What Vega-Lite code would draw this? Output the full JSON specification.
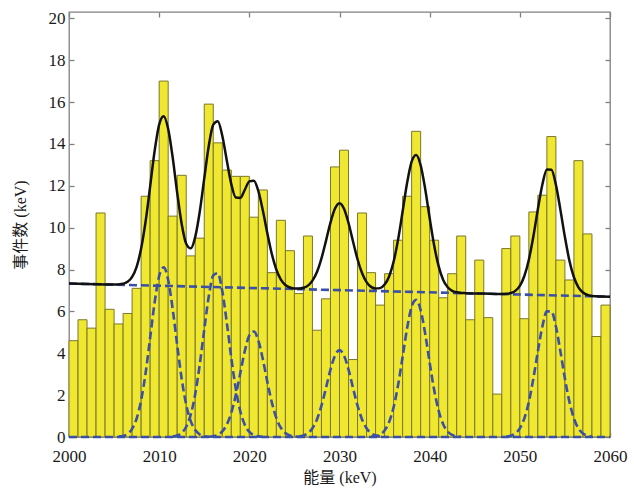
{
  "$schema": "https://vega.github.io/schema/vega-lite/v6.json",
  "width": 541,
  "height": 425,
  "autosize": "none",
  "padding": {"left": 69, "top": 12, "right": 24, "bottom": 57},
  "background": "white",
  "config": {
    "view": {"stroke": "#808080", "strokeWidth": 1.3},
    "axis": {
      "grid": false,
      "domain": false,
      "tickColor": "#808080",
      "tickWidth": 1.3,
      "tickSize": -5,
      "labelFlush": false,
      "labelOverlap": false,
      "labelFont": "Liberation Serif, Times New Roman, serif",
      "labelFontSize": 17,
      "labelColor": "#1a1a1a",
      "titleFont": "Liberation Serif, Noto Sans CJK SC, serif",
      "titleFontSize": 16,
      "titleFontWeight": "normal",
      "titleColor": "#1a1a1a"
    }
  },
  "datasets": {
    "hist": [
      {"a": 2000, "b": 2001, "n": 4.6}, {"a": 2001, "b": 2002, "n": 5.6}, {"a": 2002, "b": 2003, "n": 5.2},
      {"a": 2003, "b": 2004, "n": 10.7}, {"a": 2004, "b": 2005, "n": 6.1}, {"a": 2005, "b": 2006, "n": 5.4},
      {"a": 2006, "b": 2007, "n": 5.9}, {"a": 2007, "b": 2008, "n": 7.1}, {"a": 2008, "b": 2009, "n": 11.5},
      {"a": 2009, "b": 2010, "n": 13.2}, {"a": 2010, "b": 2011, "n": 17.0}, {"a": 2011, "b": 2012, "n": 10.55},
      {"a": 2012, "b": 2013, "n": 12.5}, {"a": 2013, "b": 2014, "n": 8.65}, {"a": 2014, "b": 2015, "n": 9.5},
      {"a": 2015, "b": 2016, "n": 15.9}, {"a": 2016, "b": 2017, "n": 14.05}, {"a": 2017, "b": 2018, "n": 12.75},
      {"a": 2018, "b": 2019, "n": 12.45}, {"a": 2019, "b": 2020, "n": 12.45}, {"a": 2020, "b": 2021, "n": 10.5},
      {"a": 2021, "b": 2022, "n": 11.8}, {"a": 2022, "b": 2023, "n": 7.85}, {"a": 2023, "b": 2024, "n": 10.35},
      {"a": 2024, "b": 2025, "n": 8.9}, {"a": 2025, "b": 2026, "n": 6.85}, {"a": 2026, "b": 2027, "n": 9.6},
      {"a": 2027, "b": 2028, "n": 5.1}, {"a": 2028, "b": 2029, "n": 6.6}, {"a": 2029, "b": 2030, "n": 12.9},
      {"a": 2030, "b": 2031, "n": 13.7}, {"a": 2031, "b": 2032, "n": 3.7}, {"a": 2032, "b": 2033, "n": 10.7},
      {"a": 2033, "b": 2034, "n": 7.85}, {"a": 2034, "b": 2035, "n": 6.3}, {"a": 2035, "b": 2036, "n": 7.8},
      {"a": 2036, "b": 2037, "n": 9.4}, {"a": 2037, "b": 2038, "n": 11.5}, {"a": 2038, "b": 2039, "n": 14.6},
      {"a": 2039, "b": 2040, "n": 11.0}, {"a": 2040, "b": 2041, "n": 9.4}, {"a": 2041, "b": 2042, "n": 6.65},
      {"a": 2042, "b": 2043, "n": 7.8}, {"a": 2043, "b": 2044, "n": 9.6}, {"a": 2044, "b": 2045, "n": 5.6},
      {"a": 2045, "b": 2046, "n": 8.45}, {"a": 2046, "b": 2047, "n": 5.7}, {"a": 2047, "b": 2048, "n": 2.05},
      {"a": 2048, "b": 2049, "n": 9.0}, {"a": 2049, "b": 2050, "n": 9.6}, {"a": 2050, "b": 2051, "n": 5.65},
      {"a": 2051, "b": 2052, "n": 10.75}, {"a": 2052, "b": 2053, "n": 11.55}, {"a": 2053, "b": 2054, "n": 14.35},
      {"a": 2054, "b": 2055, "n": 8.45}, {"a": 2055, "b": 2056, "n": 7.5}, {"a": 2056, "b": 2057, "n": 13.2},
      {"a": 2057, "b": 2058, "n": 9.7}, {"a": 2058, "b": 2059, "n": 4.8}, {"a": 2059, "b": 2060, "n": 6.3}
    ],
    "fit": [
      {"e": 2000, "v": 7.33}, {"e": 2002, "v": 7.31}, {"e": 2004, "v": 7.29}, {"e": 2005, "v": 7.28},
      {"e": 2005.5, "v": 7.29}, {"e": 2006, "v": 7.32}, {"e": 2006.5, "v": 7.41}, {"e": 2007, "v": 7.65},
      {"e": 2007.5, "v": 8.13}, {"e": 2008, "v": 9.0}, {"e": 2008.5, "v": 10.31}, {"e": 2009, "v": 11.97},
      {"e": 2009.5, "v": 13.67}, {"e": 2010, "v": 14.92}, {"e": 2010.5, "v": 15.32}, {"e": 2011, "v": 14.71},
      {"e": 2011.5, "v": 13.35}, {"e": 2012, "v": 11.66}, {"e": 2012.5, "v": 10.17}, {"e": 2013, "v": 9.23},
      {"e": 2013.5, "v": 9.01}, {"e": 2014, "v": 9.56}, {"e": 2014.5, "v": 10.76}, {"e": 2015, "v": 12.35},
      {"e": 2015.5, "v": 13.9}, {"e": 2016, "v": 14.92}, {"e": 2016.5, "v": 15.08}, {"e": 2017, "v": 14.39},
      {"e": 2017.5, "v": 13.21}, {"e": 2018, "v": 12.08}, {"e": 2018.5, "v": 11.44}, {"e": 2019, "v": 11.42},
      {"e": 2019.5, "v": 11.81}, {"e": 2020, "v": 12.21}, {"e": 2020.5, "v": 12.24}, {"e": 2021, "v": 11.75},
      {"e": 2021.5, "v": 10.82}, {"e": 2022, "v": 9.73}, {"e": 2022.5, "v": 8.73}, {"e": 2023, "v": 7.99},
      {"e": 2023.5, "v": 7.52}, {"e": 2024, "v": 7.26}, {"e": 2024.5, "v": 7.14}, {"e": 2025, "v": 7.09},
      {"e": 2025.5, "v": 7.09}, {"e": 2026, "v": 7.13}, {"e": 2026.5, "v": 7.23}, {"e": 2027, "v": 7.47},
      {"e": 2027.5, "v": 7.88}, {"e": 2028, "v": 8.53}, {"e": 2028.5, "v": 9.37}, {"e": 2029, "v": 10.24},
      {"e": 2029.5, "v": 10.91}, {"e": 2030, "v": 11.17}, {"e": 2030.5, "v": 10.9}, {"e": 2031, "v": 10.22},
      {"e": 2031.5, "v": 9.34}, {"e": 2032, "v": 8.49}, {"e": 2032.5, "v": 7.83}, {"e": 2033, "v": 7.4},
      {"e": 2033.5, "v": 7.17}, {"e": 2034, "v": 7.09}, {"e": 2034.5, "v": 7.11}, {"e": 2035, "v": 7.28},
      {"e": 2035.5, "v": 7.67}, {"e": 2036, "v": 8.37}, {"e": 2036.5, "v": 9.43}, {"e": 2037, "v": 10.77},
      {"e": 2037.5, "v": 12.14}, {"e": 2038, "v": 13.15}, {"e": 2038.5, "v": 13.47}, {"e": 2039, "v": 12.98},
      {"e": 2039.5, "v": 11.86}, {"e": 2040, "v": 10.46}, {"e": 2040.5, "v": 9.15}, {"e": 2041, "v": 8.15},
      {"e": 2041.5, "v": 7.5}, {"e": 2042, "v": 7.15}, {"e": 2042.5, "v": 6.98}, {"e": 2043, "v": 6.91},
      {"e": 2043.5, "v": 6.88}, {"e": 2044, "v": 6.87}, {"e": 2046, "v": 6.85}, {"e": 2048, "v": 6.83},
      {"e": 2048.5, "v": 6.84}, {"e": 2049, "v": 6.88}, {"e": 2049.5, "v": 6.98}, {"e": 2050, "v": 7.22},
      {"e": 2050.5, "v": 7.69}, {"e": 2051, "v": 8.47}, {"e": 2051.5, "v": 9.58}, {"e": 2052, "v": 10.88},
      {"e": 2052.5, "v": 12.06}, {"e": 2053, "v": 12.78}, {"e": 2053.5, "v": 12.77}, {"e": 2054, "v": 12.05},
      {"e": 2054.5, "v": 10.85}, {"e": 2055, "v": 9.55}, {"e": 2055.5, "v": 8.42}, {"e": 2056, "v": 7.63},
      {"e": 2056.5, "v": 7.15}, {"e": 2057, "v": 6.9}, {"e": 2057.5, "v": 6.79}, {"e": 2058, "v": 6.74},
      {"e": 2059, "v": 6.71}, {"e": 2060, "v": 6.7}
    ],
    "comp": [
      {"c": "bg", "e": 2000, "v": 7.33}, {"c": "bg", "e": 2060, "v": 6.7},
      {"c": "zero", "e": 2000, "v": 0}, {"c": "zero", "e": 2060, "v": 0},
      {"c": "g1", "e": 2005.5, "v": 0.02}, {"c": "g1", "e": 2006, "v": 0.05}, {"c": "g1", "e": 2006.5, "v": 0.15},
      {"c": "g1", "e": 2007, "v": 0.39}, {"c": "g1", "e": 2007.5, "v": 0.88}, {"c": "g1", "e": 2008, "v": 1.75},
      {"c": "g1", "e": 2008.5, "v": 3.07}, {"c": "g1", "e": 2009, "v": 4.74}, {"c": "g1", "e": 2009.5, "v": 6.44},
      {"c": "g1", "e": 2010, "v": 7.69}, {"c": "g1", "e": 2010.5, "v": 8.1}, {"c": "g1", "e": 2011, "v": 7.5},
      {"c": "g1", "e": 2011.5, "v": 6.11}, {"c": "g1", "e": 2012, "v": 4.39}, {"c": "g1", "e": 2012.5, "v": 2.77},
      {"c": "g1", "e": 2013, "v": 1.54}, {"c": "g1", "e": 2013.5, "v": 0.76}, {"c": "g1", "e": 2014, "v": 0.33},
      {"c": "g1", "e": 2014.5, "v": 0.12}, {"c": "g1", "e": 2015, "v": 0.04}, {"c": "g1", "e": 2015.5, "v": 0.01},
      {"c": "g2", "e": 2011.5, "v": 0.02}, {"c": "g2", "e": 2012, "v": 0.07}, {"c": "g2", "e": 2012.5, "v": 0.2},
      {"c": "g2", "e": 2013, "v": 0.49}, {"c": "g2", "e": 2013.5, "v": 1.07}, {"c": "g2", "e": 2014, "v": 2.05},
      {"c": "g2", "e": 2014.5, "v": 3.46}, {"c": "g2", "e": 2015, "v": 5.13}, {"c": "g2", "e": 2015.5, "v": 6.71},
      {"c": "g2", "e": 2016, "v": 7.72}, {"c": "g2", "e": 2016.5, "v": 7.82}, {"c": "g2", "e": 2017, "v": 6.97},
      {"c": "g2", "e": 2017.5, "v": 5.47}, {"c": "g2", "e": 2018, "v": 3.78}, {"c": "g2", "e": 2018.5, "v": 2.3},
      {"c": "g2", "e": 2019, "v": 1.23}, {"c": "g2", "e": 2019.5, "v": 0.58}, {"c": "g2", "e": 2020, "v": 0.24},
      {"c": "g2", "e": 2020.5, "v": 0.09}, {"c": "g2", "e": 2021, "v": 0.03}, {"c": "g2", "e": 2021.5, "v": 0.01},
      {"c": "g3", "e": 2015.5, "v": 0.01}, {"c": "g3", "e": 2016, "v": 0.04}, {"c": "g3", "e": 2016.5, "v": 0.1},
      {"c": "g3", "e": 2017, "v": 0.27}, {"c": "g3", "e": 2017.5, "v": 0.59}, {"c": "g3", "e": 2018, "v": 1.16},
      {"c": "g3", "e": 2018.5, "v": 2.01}, {"c": "g3", "e": 2019, "v": 3.06}, {"c": "g3", "e": 2019.5, "v": 4.11},
      {"c": "g3", "e": 2020, "v": 4.85}, {"c": "g3", "e": 2020.5, "v": 5.04}, {"c": "g3", "e": 2021, "v": 4.61},
      {"c": "g3", "e": 2021.5, "v": 3.71}, {"c": "g3", "e": 2022, "v": 2.63}, {"c": "g3", "e": 2022.5, "v": 1.64},
      {"c": "g3", "e": 2023, "v": 0.9}, {"c": "g3", "e": 2023.5, "v": 0.44}, {"c": "g3", "e": 2024, "v": 0.19},
      {"c": "g3", "e": 2024.5, "v": 0.07}, {"c": "g3", "e": 2025, "v": 0.02}, {"c": "g3", "e": 2025.5, "v": 0.01},
      {"c": "g4", "e": 2025.5, "v": 0.02}, {"c": "g4", "e": 2026, "v": 0.07}, {"c": "g4", "e": 2026.5, "v": 0.18},
      {"c": "g4", "e": 2027, "v": 0.42}, {"c": "g4", "e": 2027.5, "v": 0.84}, {"c": "g4", "e": 2028, "v": 1.5},
      {"c": "g4", "e": 2028.5, "v": 2.34}, {"c": "g4", "e": 2029, "v": 3.22}, {"c": "g4", "e": 2029.5, "v": 3.89},
      {"c": "g4", "e": 2030, "v": 4.15}, {"c": "g4", "e": 2030.5, "v": 3.89}, {"c": "g4", "e": 2031, "v": 3.22},
      {"c": "g4", "e": 2031.5, "v": 2.34}, {"c": "g4", "e": 2032, "v": 1.5}, {"c": "g4", "e": 2032.5, "v": 0.84},
      {"c": "g4", "e": 2033, "v": 0.42}, {"c": "g4", "e": 2033.5, "v": 0.18}, {"c": "g4", "e": 2034, "v": 0.07},
      {"c": "g4", "e": 2034.5, "v": 0.02},
      {"c": "g5", "e": 2033.5, "v": 0.01}, {"c": "g5", "e": 2034, "v": 0.04}, {"c": "g5", "e": 2034.5, "v": 0.12},
      {"c": "g5", "e": 2035, "v": 0.31}, {"c": "g5", "e": 2035.5, "v": 0.71}, {"c": "g5", "e": 2036, "v": 1.42},
      {"c": "g5", "e": 2036.5, "v": 2.48}, {"c": "g5", "e": 2037, "v": 3.83}, {"c": "g5", "e": 2037.5, "v": 5.2},
      {"c": "g5", "e": 2038, "v": 6.22}, {"c": "g5", "e": 2038.5, "v": 6.55}, {"c": "g5", "e": 2039, "v": 6.06},
      {"c": "g5", "e": 2039.5, "v": 4.94}, {"c": "g5", "e": 2040, "v": 3.55}, {"c": "g5", "e": 2040.5, "v": 2.24},
      {"c": "g5", "e": 2041, "v": 1.25}, {"c": "g5", "e": 2041.5, "v": 0.61}, {"c": "g5", "e": 2042, "v": 0.26},
      {"c": "g5", "e": 2042.5, "v": 0.1}, {"c": "g5", "e": 2043, "v": 0.03}, {"c": "g5", "e": 2043.5, "v": 0.01},
      {"c": "g6", "e": 2048.5, "v": 0.02}, {"c": "g6", "e": 2049, "v": 0.06}, {"c": "g6", "e": 2049.5, "v": 0.17},
      {"c": "g6", "e": 2050, "v": 0.41}, {"c": "g6", "e": 2050.5, "v": 0.89}, {"c": "g6", "e": 2051, "v": 1.68},
      {"c": "g6", "e": 2051.5, "v": 2.79}, {"c": "g6", "e": 2052, "v": 4.09}, {"c": "g6", "e": 2052.5, "v": 5.28},
      {"c": "g6", "e": 2053, "v": 6.0}, {"c": "g6", "e": 2053.5, "v": 6.0}, {"c": "g6", "e": 2054, "v": 5.28},
      {"c": "g6", "e": 2054.5, "v": 4.09}, {"c": "g6", "e": 2055, "v": 2.79}, {"c": "g6", "e": 2055.5, "v": 1.68},
      {"c": "g6", "e": 2056, "v": 0.89}, {"c": "g6", "e": 2056.5, "v": 0.41}, {"c": "g6", "e": 2057, "v": 0.17},
      {"c": "g6", "e": 2057.5, "v": 0.06}, {"c": "g6", "e": 2058, "v": 0.02}
    ]
  },
  "resolve": {"axis": {"x": "independent", "y": "independent"}},
  "layer": [
    {
      "data": {"name": "hist"},
      "mark": {"type": "rect", "fill": "#f0e730", "stroke": "#7a772c", "strokeWidth": 1},
      "encoding": {
        "x": {"field": "a", "type": "quantitative",
              "scale": {"domain": [2000, 2060], "nice": false, "zero": false},
              "axis": {"orient": "bottom", "values": [2000, 2010, 2020, 2030, 2040, 2050, 2060],
                       "title": "能量 (keV)", "labelPadding": 16, "titlePadding": 5, "format": "d"}},
        "x2": {"field": "b"},
        "y": {"field": "n", "type": "quantitative",
              "scale": {"domain": [0, 20.3], "nice": false},
              "axis": {"orient": "left", "values": [0, 2, 4, 6, 8, 10, 12, 14, 16, 18, 20],
                       "title": "事件数 (keV)", "labelPadding": 9, "titlePadding": 20}},
        "y2": {"datum": 0}
      }
    },
    {
      "data": {"name": "comp"},
      "mark": {"type": "line", "color": "#3a50a8", "strokeWidth": 2.6, "strokeDash": [8, 4], "interpolate": "monotone"},
      "encoding": {
        "x": {"field": "e", "type": "quantitative",
              "axis": {"orient": "top", "values": [2000, 2010, 2020, 2030, 2040, 2050, 2060], "labels": false, "title": null}},
        "y": {"field": "v", "type": "quantitative",
              "axis": {"orient": "right", "values": [0, 2, 4, 6, 8, 10, 12, 14, 16, 18, 20], "labels": false, "title": null}},
        "detail": {"field": "c", "type": "nominal"}
      }
    },
    {
      "data": {"name": "fit"},
      "mark": {"type": "line", "color": "#111111", "strokeWidth": 2.5, "interpolate": "monotone"},
      "encoding": {
        "x": {"field": "e", "type": "quantitative", "axis": null},
        "y": {"field": "v", "type": "quantitative", "axis": null}
      }
    }
  ]
}
